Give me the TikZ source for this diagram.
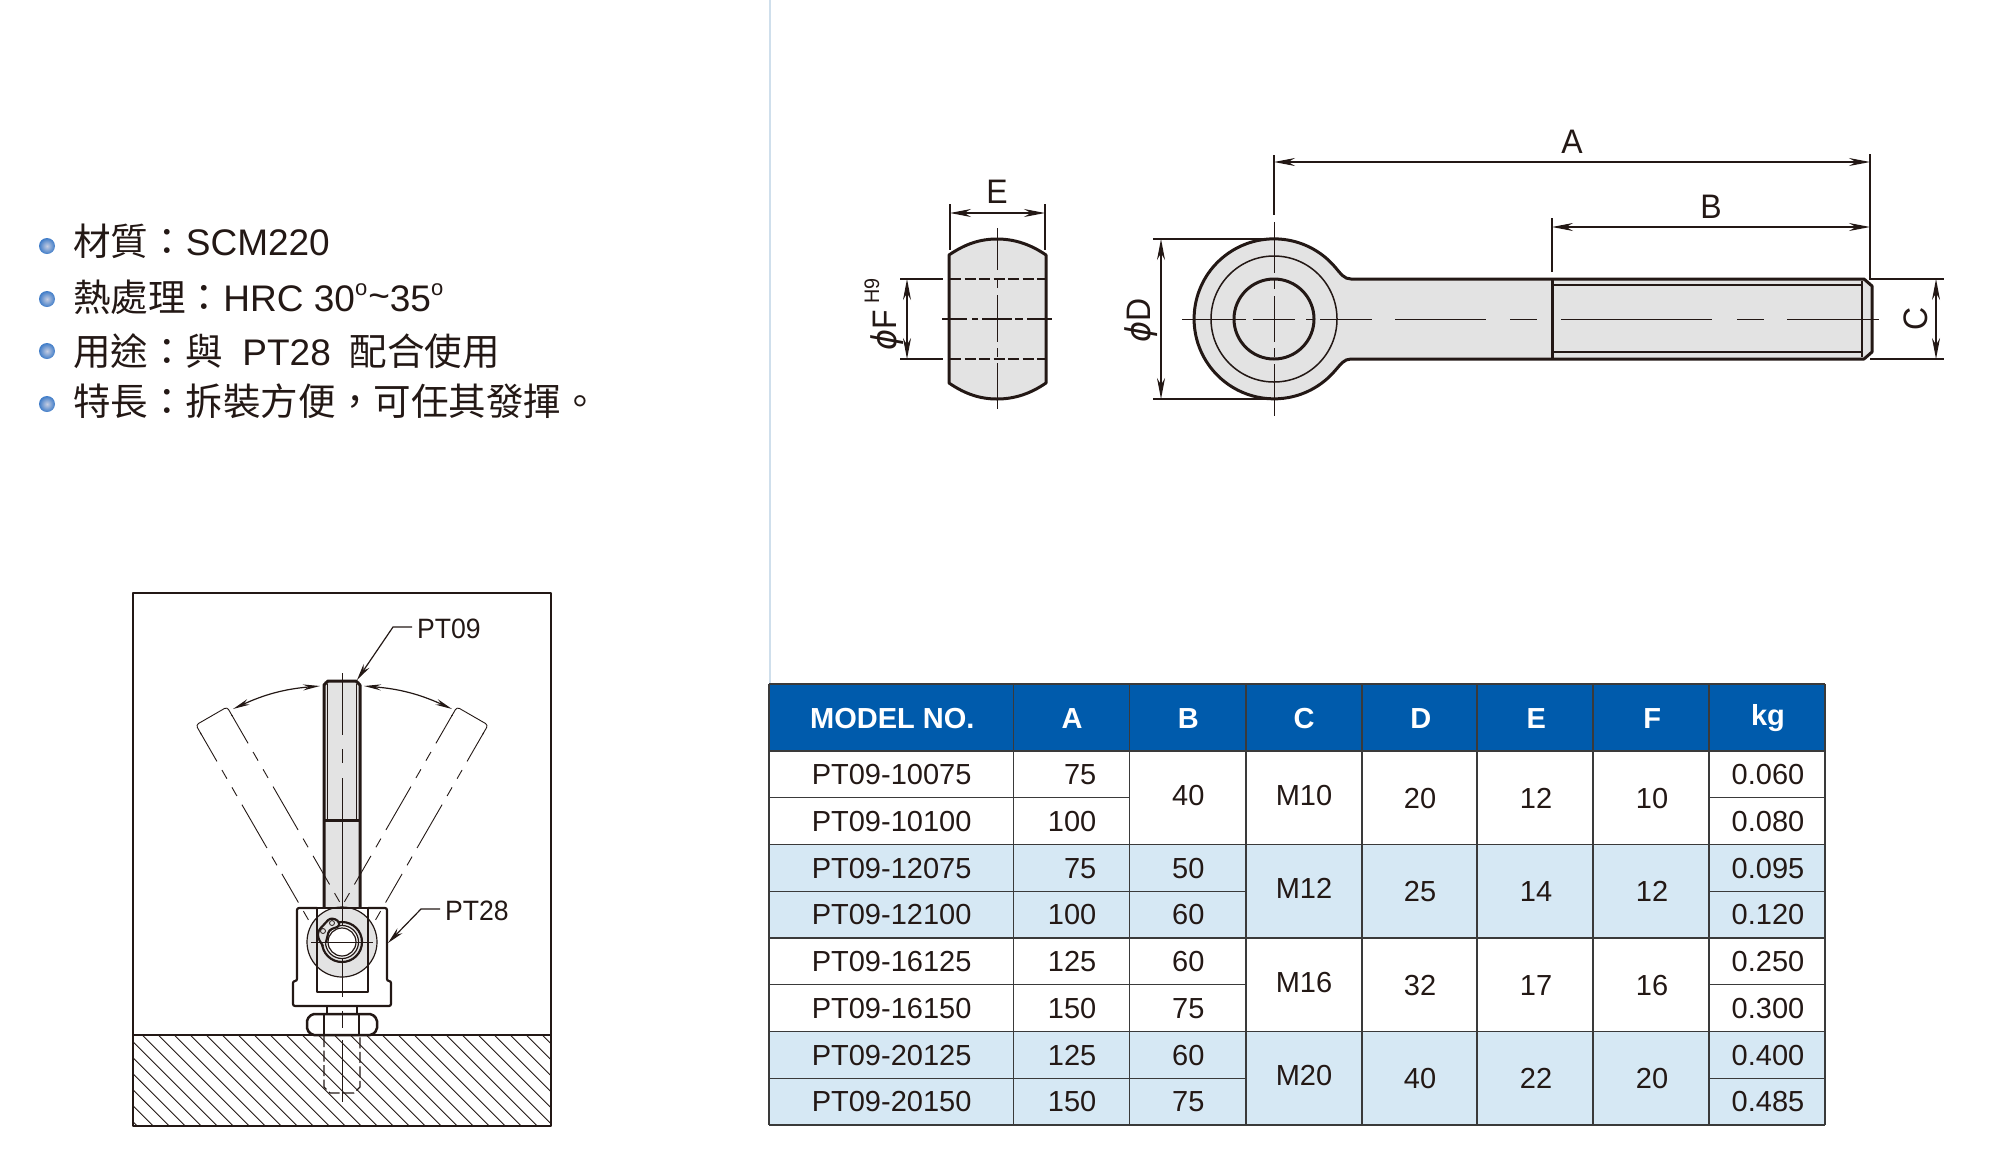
\documentclass[tikz,border=0pt]{standalone}
\usepackage{fontspec}
\setmainfont{Liberation Sans}
\newfontfamily\cjkfont[Scale=1.015]{Noto Sans CJK TC}
\newfontfamily\phifont{DejaVu Sans}
\usetikzlibrary{arrows.meta}
\definecolor{inkc}{HTML}{231815}
\definecolor{headc}{HTML}{005BAC}
\definecolor{rowc}{HTML}{D6E8F4}
\definecolor{bodyc}{HTML}{E3E3E3}
\definecolor{gridc}{HTML}{3A3A3A}
\definecolor{sepc}{HTML}{CFDFEC}
\definecolor{ballin}{HTML}{C5CDE2}
\definecolor{ballout}{HTML}{3F7CC8}
\tikzset{
	thickl/.style={draw=inkc,line width=3pt,line join=round},
	housel/.style={draw=inkc,line width=2.2pt,line join=round},
	thinl/.style={draw=inkc,line width=1.2pt},
	dimarrow/.style={draw=inkc,line width=1.2pt,{Stealth[length=21pt,width=8pt]}-{Stealth[length=21pt,width=8pt]}},
	leadarrow/.style={draw=inkc,line width=1.2pt,-{Stealth[length=17pt,width=7pt]}},
	swingarrow/.style={draw=inkc,line width=1.2pt,{Stealth[length=17pt,width=6pt]}-{Stealth[length=17pt,width=6pt]}},
	centerl/.style={draw=inkc,line width=1pt},
	ghostl/.style={draw=inkc,line width=.9pt,dash pattern=on 33pt off 10pt on 10pt off 10pt on 10pt off 10pt on 50pt off 10pt on 10pt off 10pt},
	hiddenl/.style={draw=inkc,line width=1.2pt,dash pattern=on 11pt off 3.5pt},
	bullettext/.style={anchor=base west,inner sep=0pt,text=inkc,font=\fontsize{37}{40}\selectfont},
	bulletdot/.style={circle,minimum size=16pt,inner sep=0pt,inner color=ballin,outer color=ballout},
	dimlabel/.style={anchor=base,inner sep=0pt,text=inkc,xscale=.94,font=\fontsize{34}{36}\selectfont},
	partlabel/.style={anchor=base west,inner sep=0pt,text=inkc,xscale=.95,font=\fontsize{28}{30}\selectfont},
	celltext/.style={anchor=base,inner sep=0pt,text=inkc,font=\fontsize{29}{32}\selectfont},
	headtext/.style={anchor=base,inner sep=0pt,text=white,font=\fontsize{29}{32}\selectfont\bfseries},
}
\begin{document}
\begin{tikzpicture}[x=1pt,y=-1pt]
	\useasboundingbox (0,0) rectangle (1993,1149);
	\draw[line width=1.5pt,draw=sepc] (770,0) -- (770,684);

	% feature list
	\foreach \i/\y in {1/246,2/299,3/351,4/404}
		\node[bulletdot] (bullet\i) at (47,\y) {};
	\node[bullettext] (material) at (73,255) {{\cjkfont 材質：}SCM220};
	\node[bullettext] (heat) at (73,311) {{\cjkfont 熱處理：}HRC 30\raisebox{.42em}{\fontsize{22}{22}\selectfont o}\hspace{1pt}\raisebox{.08em}{\~{}}35\raisebox{.42em}{\fontsize{22}{22}\selectfont o}};
	\node[bullettext] (usage) at (73,365) {{\cjkfont 用途：與}\hspace{19pt}PT28\hspace{19pt}{\cjkfont 配合使用}};
	\node[bullettext] (feature) at (73,415) {\cjkfont 特長：拆裝方便，可任其發揮。};

	% mounting view
	\fill[bodyc] (324,681) rectangle (360,908);
	\begin{scope}[rotate around={30:(342,942)}]
		\draw[thinl,line width=.9pt,rounded corners=3pt] (324,692) -- (324,681) -- (360,681) -- (360,692);
		\draw[ghostl] (324,690) -- (324,912);
		\draw[ghostl] (360,690) -- (360,911);
	\end{scope}
	\begin{scope}[rotate around={-30:(342,942)}]
		\draw[thinl,line width=.9pt,rounded corners=3pt] (324,692) -- (324,681) -- (360,681) -- (360,692);
		\draw[ghostl] (360,690) -- (360,912);
		\draw[ghostl] (324,690) -- (324,911);
	\end{scope}
	\draw[thickl] (324,908) -- (324,685) -- (328,681) -- (356,681) -- (360,685) -- (360,908);
	\draw[thickl] (324,820) -- (360,820);
	\draw[thinl] (327.5,684) -- (327.5,820);
	\draw[thinl] (356.5,684) -- (356.5,820);
	\foreach \a/\b in {673/735,749/763,778/908}
		\draw[centerl] (342,\a) -- (342,\b);
	\draw[thinl,fill=bodyc] (342,942) circle[radius=35pt];
	\draw[centerl] (342,908) -- (342,997);
	\draw[housel,rounded corners=2pt] (317,908) -- (297,908) -- (297,981) -- (293,981) -- (293,1006) -- (391,1006) -- (391,981) -- (387,981) -- (387,908) -- (368,908);
	\draw[housel] (299,908) -- (385,908);
	\draw[housel] (317,908) -- (317,992) -- (368,992) -- (368,908);
	% retaining ring
	\draw[housel] (342,942) circle[radius=20pt];
	\draw[thinl,fill=white] (342,942) circle[radius=16.5pt];
	\draw[thinl] (342,942) circle[radius=14pt];
	\draw[housel,rounded corners=3pt,fill=bodyc] (323,946) -- (318,938) -- (318,931) -- (330,918) -- (338,920) -- (340,926) -- (329,930) -- (326,942);
	\draw[thinl,line width=.8pt] (323,931) circle[radius=2.5pt] (332,923) circle[radius=2.5pt];
	\draw[centerl] (311,942) -- (373,942);
	% hatching, stud and nut
	\begin{scope}
		\clip (133,1035) rectangle (551,1126);
		\foreach \x in {30.3,46.3,...,560}
			\draw[draw=inkc,line width=.8pt] (\x,1035) -- (\x+91,1126);
	\end{scope}
	\draw[hiddenl] (324,1036) -- (324,1087) -- (330,1093) -- (354,1093) -- (360,1087) -- (360,1036);
	\draw[housel] (327,1006) -- (327,1014) (357,1006) -- (357,1014);
	\draw[housel,line width=2.5pt,rounded corners=2pt,fill=white] (312,1014) -- (307,1019) -- (307,1030) -- (312,1035) -- (372,1035) -- (377,1030) -- (377,1019) -- (372,1014) -- cycle;
	\draw[housel] (324,1014) -- (324,1035) (359,1014) -- (359,1035);
	\foreach \a/\b in {1011/1028,1040/1102}
		\draw[centerl] (342,\a) -- (342,\b);
	\draw[housel,line width=1.8pt] (133,593) rectangle (551,1126);
	\draw[housel] (133,1035) -- (551,1035);

	% leaders of the mounting view
	\coordinate (swingla) at (233,709);
	\coordinate (swinglb) at (320,686);
	\coordinate (swingra) at (364,686);
	\coordinate (swingrb) at (452,709);
	\draw[swingarrow] (swingla) to[bend left=10] (swinglb);
	\draw[swingarrow] (swingra) to[bend left=10] (swingrb);
	\node[partlabel] (ptnine) at (417,638) {PT09};
	\node[partlabel] (pteight) at (445,920) {PT28};
	\coordinate (ptninetip) at (357,680);
	\coordinate (pteighttip) at (388,943);
	\draw[leadarrow] (412,627) -- (393,627) -- (ptninetip);
	\draw[leadarrow] (440,909) -- (421,909) -- (pteighttip);

	% side view
	\draw[thickl,fill=bodyc] (949,255) .. controls (965,244) and (980,239) .. (997,239) .. controls (1014,239) and (1030,244) .. (1046,255) -- (1046,383) .. controls (1030,394) and (1014,399) .. (997,399) .. controls (980,399) and (965,394) .. (949,383) -- cycle;
	\draw[hiddenl] (950,279) -- (1045,279);
	\draw[hiddenl] (950,359) -- (1045,359);
	\foreach \a/\b in {942/967,972/978,982/1012,1015/1023,1027/1052}
		\draw[centerl,line width=1.2pt] (\a,319) -- (\b,319);
	\foreach \a/\b in {228/270,280/288,295/342,348/357,363/409}
		\draw[centerl] (997,\a) -- (997,\b);
	\draw[thinl] (950,204) -- (950,250);
	\draw[thinl] (1045,204) -- (1045,250);
	\draw[dimarrow] (950,213) -- (1045,213);
	\node[dimlabel] (dime) at (997,203) {E};
	\draw[thinl] (900,279) -- (943,279);
	\draw[thinl] (900,359) -- (943,359);
	\draw[dimarrow] (907,279) -- (907,359);
	\node[rotate=90,dimlabel] (dimf) at (896,330) {{\phifont\itshape ϕ}F};
	\node[rotate=90,dimlabel,font=\fontsize{21}{22}\selectfont] (dimh) at (879,291) {H9};

	% front view
	\draw[thickl,fill=bodyc] (1335,267) arc[start angle=40.4,end angle=319.6,radius=80pt] .. controls (1341,364) and (1344,359) .. (1351,359) -- (1864,359) -- (1872,352) -- (1872,286) -- (1864,279) -- (1351,279) .. controls (1344,279) and (1341,274) .. (1335,267) -- cycle;
	\draw[thinl,line width=1.5pt] (1274,319) circle[radius=63pt];
	\draw[thickl,fill=bodyc] (1274,319) circle[radius=40pt];
	\draw[thickl] (1552,279) -- (1552,359);
	\draw[thinl] (1552,285) -- (1861,285);
	\draw[thinl] (1552,352) -- (1861,352);
	\draw[thinl,line width=1.5pt] (1862,281) -- (1862,357);
	\foreach \a/\b in {1182/1246,1253/1295,1306/1313,1320/1372,1395/1486,1510/1537,1561/1712,1737/1764,1787/1879}
		\draw[centerl] (\a,319) -- (\b,319);
	\foreach \a/\b in {222/273,280/289,296/342,348/357,364/416}
		\draw[centerl] (1274,\a) -- (1274,\b);
	\draw[thinl] (1274,155) -- (1274,215);
	\draw[thinl] (1870,154) -- (1870,279) -- (1944,279);
	\draw[thinl] (1870,359) -- (1944,359);
	\draw[thinl] (1552,218) -- (1552,272);
	\draw[thinl] (1153,239) -- (1270,239);
	\draw[thinl] (1153,399) -- (1270,399);
	\draw[dimarrow] (1274,162) -- (1870,162);
	\draw[dimarrow] (1552,227) -- (1870,227);
	\draw[dimarrow] (1161,239) -- (1161,399);
	\draw[dimarrow] (1936,279) -- (1936,359);
	\node[dimlabel] (dima) at (1572,153) {A};
	\node[dimlabel] (dimb) at (1711,218) {B};
	\node[rotate=90,dimlabel] (dimc) at (1927,319) {C};
	\node[rotate=90,dimlabel] (dimd) at (1150,320) {{\phifont\itshape ϕ}D};

	% table
	\fill[headc] (769,684) rectangle (1825,751);
	\fill[rowc] (769,844.5) rectangle (1825,938);
	\fill[rowc] (769,1031.5) rectangle (1825,1125);
	\foreach \t/\x in {MODEL NO./892.3,A/1072,B/1188.3,C/1304,D/1420.8,E/1536.3,F/1652.3}
		\node[headtext] at (\x,728) {\t};
	\node[headtext] (headkg) at (1768,725) {kg};
	\foreach \i/\m/\a/\k in {0/10075/75/0.060,1/10100/100/0.080,2/12075/75/0.095,3/12100/100/0.120,4/16125/125/0.250,5/16150/150/0.300,6/20125/125/0.400,7/20150/150/0.485}{
		\pgfmathsetmacro{\rowy}{784.5+\i*46.75}
		\node[celltext] (model\i) at (891.6,\rowy) {PT09-\m};
		\node[celltext,anchor=base east] (lena\i) at (1096.5,\rowy) {\a};
		\node[celltext] (mass\i) at (1768,\rowy) {\k};
	}
	\foreach \i/\v in {2/50,3/60,4/60,5/75,6/60,7/75}{
		\pgfmathsetmacro{\rowy}{784.5+\i*46.75}
		\node[celltext] (lenb\i) at (1188.3,\rowy) {\v};
	}
	\node[celltext] (lenbtop) at (1188.3,805) {40};
	\foreach \y/\cc/\dd/\ee/\ff in {0/M10/20/12/10,1/M12/25/14/12,2/M16/32/17/16,3/M20/40/22/20}{
		\pgfmathsetmacro{\rowy}{808+\y*93.5}
		\pgfmathsetmacro{\rowc}{\rowy-3}
		\node[celltext] (thread\y) at (1304,\rowc) {\cc};
		\node[celltext] (dia\y) at (1420,\rowy) {\dd};
		\node[celltext] (wid\y) at (1536,\rowy) {\ee};
		\node[celltext] (bore\y) at (1652,\rowy) {\ff};
	}
	\begin{scope}[draw=gridc,line width=1.4pt]
		\foreach \y in {684,751,844.5,938,1031.5,1125}
			\draw (769,\y) -- (1825,\y);
		\foreach \x in {769,1013.5,1129.5,1246,1362,1477,1593,1709,1825}
			\draw (\x,684) -- (\x,1125);
		\draw (769,797.75) -- (1129.5,797.75);
		\foreach \y in {891.25,984.75,1078.25}
			\draw (769,\y) -- (1246,\y);
		\foreach \y in {797.75,891.25,984.75,1078.25}
			\draw (1709,\y) -- (1825,\y);
	\end{scope}
\end{tikzpicture}
\end{document}
